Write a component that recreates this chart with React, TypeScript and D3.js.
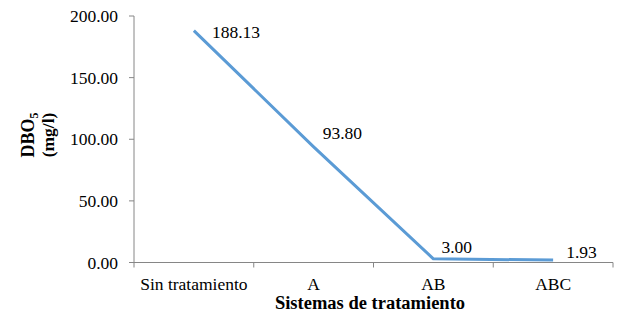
import React from "react";
import * as d3 from "d3";

const categories = ["Sin tratamiento", "A", "AB", "ABC"];
const values = [188.13, 93.8, 3.0, 1.93];
const yTicks = [0, 50, 100, 150, 200];

const W = 632;
const H = 331;
const margin = { left: 134, right: 19, top: 16, bottom: 68.5 };
const FONT = '"Liberation Serif", "Times New Roman", Times, serif';
const labelOffsets = [
  { dx: 18, dy: 1 },
  { dx: 9, dy: -14 },
  { dx: 8, dy: -12 },
  { dx: 13, dy: -8 },
];

const txt = (size: number, bold = false): React.CSSProperties => ({
  fontFamily: FONT,
  fontSize: size,
  fontWeight: bold ? "bold" : "normal",
});

export default function App() {
  const x = d3
    .scaleBand<string>()
    .domain(categories)
    .range([margin.left, W - margin.right]);
  const y = d3
    .scaleLinear()
    .domain([0, 200])
    .range([H - margin.bottom, margin.top]);
  const cx = (c: string) => (x(c) as number) + x.bandwidth() / 2;
  const line = d3
    .line<number>()
    .x((_, i) => cx(categories[i]))
    .y((d) => y(d));
  const axisColor = "#868686";
  const y0 = y(0);
  const bounds = [...categories.map((c) => x(c) as number), W - margin.right];
  return (
    <svg
      width={W}
      height={H}
      style={{ position: "absolute", left: 0, top: 0, background: "#fff" }}
    >
      {/* y axis */}
      <line x1={margin.left} x2={margin.left} y1={margin.top} y2={y0} stroke={axisColor} strokeWidth={1} />
      {yTicks.map((t) => (
        <g key={t}>
          <line x1={margin.left - 5} x2={margin.left} y1={y(t)} y2={y(t)} stroke={axisColor} />
          <text x={margin.left - 16} y={y(t)} dy="0.35em" textAnchor="end" style={txt(17.5)} fill="#000">
            {t.toFixed(2)}
          </text>
        </g>
      ))}
      {/* x axis */}
      <line x1={margin.left - 5} x2={W - margin.right} y1={y0} y2={y0} stroke={axisColor} />
      {bounds.map((b, i) => (
        <line key={i} x1={b} x2={b} y1={y0} y2={y0 + 5} stroke={axisColor} />
      ))}
      {categories.map((c) => (
        <text key={c} x={cx(c)} y={y0 + 22} dy="0.33em" textAnchor="middle" style={txt(17.5)} fill="#000">
          {c}
        </text>
      ))}
      {/* line */}
      <path d={line(values) || ""} fill="none" stroke="#5B9BD5" strokeWidth={3} strokeLinejoin="round" />
      {values.map((v, i) => (
        <text
          key={i}
          x={cx(categories[i]) + labelOffsets[i].dx}
          y={y(v) + labelOffsets[i].dy}
          dy="0.35em"
          style={txt(17.5)}
          fill="#000"
        >
          {v.toFixed(2)}
        </text>
      ))}
      {/* axis titles */}
      <text
        x={370}
        y={303}
        dy="0.35em"
        textAnchor="middle"
        style={txt(18.5, true)}
        fill="#000"
      >
        Sistemas de tratamiento
      </text>
      <g transform="translate(28,135) rotate(-90)">
        <text x={0} y={0} dy="0.35em" textAnchor="middle" style={txt(18, true)} fill="#000">
          DBO<tspan style={{ fontSize: 12 }} dy="4">5</tspan>
        </text>
        <text x={0} y={20} dy="0.35em" textAnchor="middle" style={txt(17.5, true)} fill="#000">
          (mg/l)
        </text>
      </g>
    </svg>
  );
}
